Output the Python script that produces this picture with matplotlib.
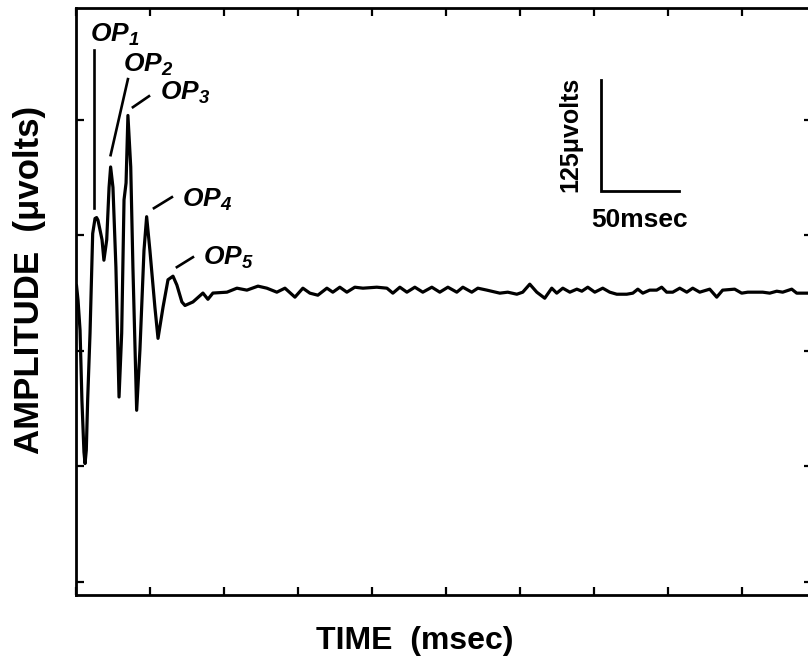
import numpy as np
import matplotlib
matplotlib.use('Agg')
import matplotlib.pyplot as plt

matplotlib.rcParams['font.family'] = ['Liberation Sans', 'DejaVu Sans']
matplotlib.rcParams['font.weight'] = 'bold'
matplotlib.rcParams['mathtext.fontset'] = 'custom'
matplotlib.rcParams['mathtext.it'] = 'Liberation Sans:italic:bold'
matplotlib.rcParams['mathtext.rm'] = 'Liberation Sans:italic:bold'
matplotlib.rcParams['mathtext.bf'] = 'Liberation Sans:italic:bold'

# ERG trace: time (msec) and amplitude (microvolts)
time_ms = [0.3, 1.3, 2.6, 3.8, 5.1, 5.8, 6.6, 7.5, 9.0, 10.7, 12.2, 13.2, 14.1,
           16.7, 17.9, 19.7, 21.2, 22.2, 23.7, 25.6, 27.6, 29.3, 30.8, 32.1,
           33.3, 35.1, 36.5, 38.9, 41.0, 43.6, 45.3, 47.4, 50.6, 52.6, 55.8,
           59.0, 62.2, 64.7, 67.9, 69.9, 75.0, 81.4, 84.6, 87.8, 96.8, 103.2,
           109.6, 116.7, 122.4, 128.8, 134.0, 140.4, 145.5, 150.0, 155.1,
           160.9, 164.7, 169.2, 173.7, 178.8, 184.0, 192.9, 199.4, 203.2,
           207.7, 212.2, 217.3, 222.4, 228.2, 233.3, 238.5, 244.2, 248.1,
           253.8, 257.7, 263.5, 271.8, 276.9, 282.7, 286.5, 291.0, 295.5,
           300.6, 305.1, 308.3, 312.2, 316.7, 321.2, 324.4, 328.2, 332.7,
           337.8, 342.3, 346.8, 353.2, 357.1, 360.3, 363.5, 367.9, 372.4,
           375.6, 378.8, 382.7, 387.2, 391.7, 395.5, 400.0, 406.4, 410.9,
           414.7, 422.4, 426.9, 430.8, 436.5, 440.4, 444.9, 449.4, 453.2,
           459.0, 462.2, 469.2, 472.0]
amp_uv = [8, -9, -43, -122, -180, -193, -178, -120, -46, 66, 83, 84, 81,
          59, 36, 59, 118, 141, 118, 28, -118, -46, 104, 123,
          199, 141, 28, -133, -65, 47, 85, 47, -17, -52, -17,
          14, 18, 8, -11, -15, -11, -1, -8, -1, 0, 4.5,
          2.3, 6.8, 4.5, 0, 4.5, -5.6, 4.5, -1.1, -3.4,
          4.5, 0, 5.6, 0, 5.6, 4.5, 5.6, 4.5, -1.1,
          5.6, 0, 5.6, 0, 5.6, 0, 5.6, 0, 5.6,
          0, 4.5, 2.3, -1.1, 0, -2.3, 0, 9.0, 0,
          -6.8, 4.5, -1.1, 4.5, 0, 3.4, 1.1, 5.6, 0,
          4.5, 0, -2.3, -2.3, -1.1, 3.4, -1.1, 2.3, 2.3,
          5.6, 0, 0, 4.5, 0, 4.5, 0, 3.4, -5.6,
          2.3, 3.4, -1.1, 0, 0, 0, -1.1, 1.1, 0,
          3.4, -1.1, -1.1, -1.0]

# oscillatory potential labels: text anchor and leader line ends
op_names = ['$OP_1$', '$OP_2$', '$OP_3$', '$OP_4$', '$OP_5$']
op_text_t = [9.0, 30.1, 53.8, 67.9, 81.4]
op_text_a = [281.5, 247.7, 216.2, 95.7, 30.4]
op_line_t0 = [11.7, 33.3, 46.8, 61.5, 75.0]
op_line_a0 = [273.0, 239.9, 220.7, 107.0, 39.4]
op_line_t1 = [11.7, 22.2, 36.5, 50.0, 64.7]
op_line_a1 = [94.6, 154.3, 208.3, 94.6, 28.2]

# calibration bar
bar_t, bar_a = 336.5, 114.0
bar_ms, bar_uv = 50, 125

x_ticks = np.arange(0, 472, 47.45)
y_ticks = [-326, -196, -66, 64, 194]

fig = plt.figure(figsize=(8.08, 6.62), dpi=100)
ax = fig.add_axes([76 / 808, 67 / 662, 736 / 808, 587 / 662])

ax.plot(time_ms, amp_uv, color='black', linewidth=2.3,
        solid_joinstyle='round', solid_capstyle='round')

for name, tx, ty, t0, a0, t1, a1 in zip(op_names, op_text_t, op_text_a,
                                       op_line_t0, op_line_a0, op_line_t1, op_line_a1):
  ax.plot([t0, t1], [a0, a1], color='black', linewidth=1.9)
  ax.text(tx, ty, name, fontsize=19, ha='left', va='baseline')

ax.plot([bar_t, bar_t, bar_t + bar_ms], [bar_a + bar_uv, bar_a, bar_a],
        color='black', linewidth=2.0, solid_joinstyle='miter')
ax.annotate('125\u03bcvolts', (bar_t, bar_a), xytext=(-13, -1),
            textcoords='offset points', rotation=90, ha='right', va='bottom',
            fontsize=18)
ax.annotate('50msec', (bar_t + bar_ms / 2, bar_a), xytext=(0, -12),
            textcoords='offset points', ha='center', va='top', fontsize=19)

ax.set_xlim(0, 472)
ax.set_ylim(-341, 320)
ax.set_xticks(x_ticks)
ax.set_yticks(y_ticks)
ax.tick_params(direction='in', length=6, width=1.6, top=True, right=True,
               labelbottom=False, labelleft=False)
for pos in ['top', 'bottom', 'right', 'left']:
  ax.spines[pos].set_linewidth(2.0)

ax.set_xlabel('TIME  (msec)', fontsize=23, fontweight='bold')
ax.xaxis.set_label_coords((415 - 76) / 736, (595 - 626) / 587)
ax.set_ylabel('AMPLITUDE  (\u03bcvolts)', fontsize=25, fontweight='bold')
ax.yaxis.set_label_coords((46 - 76) / 736, (595 - 280) / 587)

plt.savefig('out.png', dpi=100)
